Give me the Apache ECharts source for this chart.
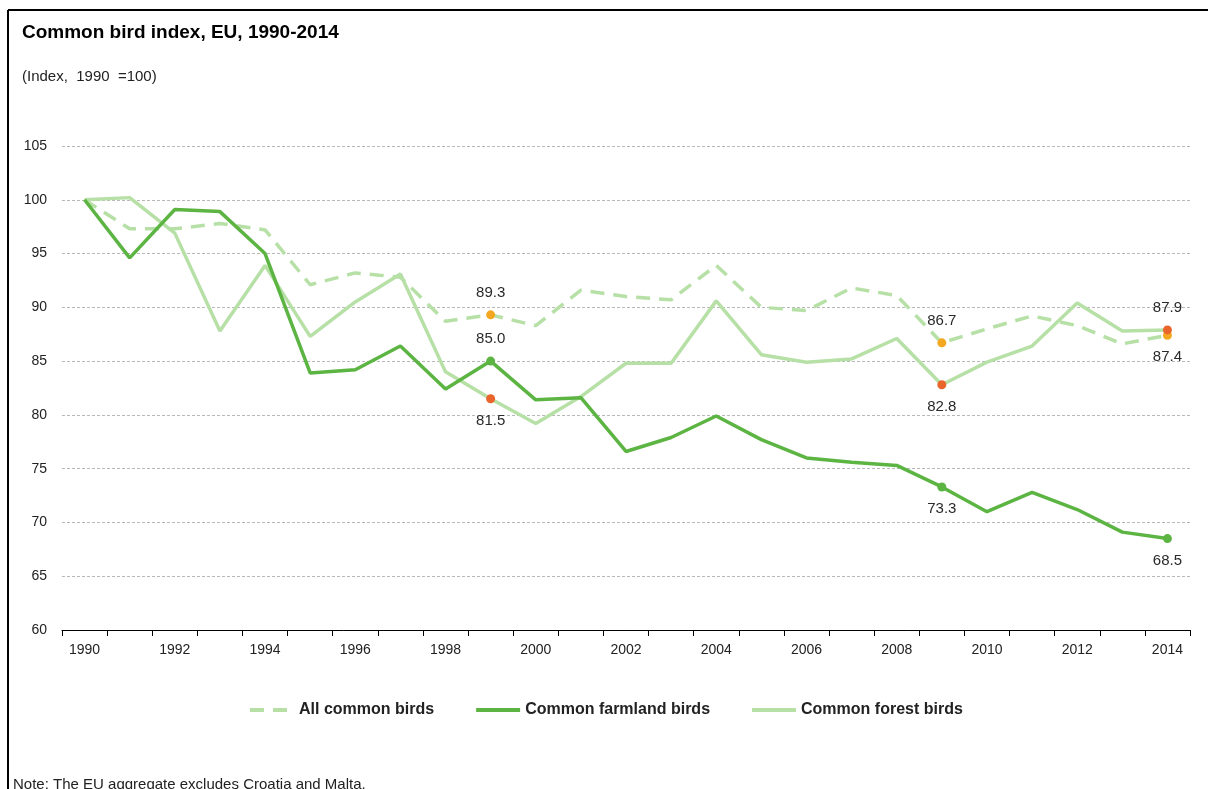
<!DOCTYPE html>
<html>
<head>
<meta charset="utf-8">
<script src="https://cdn.jsdelivr.net/npm/echarts@6/dist/echarts.min.js"></script>
<style>
html, body { margin: 0; padding: 0; background: #fff; }
#chart { width: 1208px; height: 789px; }
</style>
</head>
<body>
<div id="chart"></div>
<script>
const years = ['1990','1991','1992','1993','1994','1995','1996','1997','1998','1999','2000','2001','2002',
  '2003','2004','2005','2006','2007','2008','2009','2010','2011','2012','2013','2014']
const allBirds = [100, 97.3, 97.3, 97.8, 97.2, 92.1, 93.2, 92.8, 88.7, 89.3, 88.3, 91.6, 91.0,
  90.7, 93.9, 90.0, 89.7, 91.8, 91.1, 86.7, 88.0, 89.2, 88.3, 86.6, 87.4]
const farmland = [100, 94.6, 99.1, 98.9, 95.0, 83.9, 84.2, 86.4, 82.4, 85.0, 81.4, 81.6, 76.6,
  77.9, 79.9, 77.7, 76.0, 75.6, 75.3, 73.3, 71.0, 72.8, 71.2, 69.1, 68.5]
const forest = [100, 100.2, 96.9, 87.8, 93.9, 87.3, 90.5, 93.1, 84.0, 81.5, 79.2, 81.7, 84.8,
  84.8, 90.6, 85.6, 84.9, 85.2, 87.1, 82.8, 84.9, 86.4, 90.4, 87.8, 87.9]
const yTicks = [60, 105, 5]

// points with a dot and value label: [year index, label position]
const allMarks = [[9, 'top'], [19, 'top'], [24, 'bottom']]
const farmMarks = [[9, 'top'], [19, 'bottom'], [24, 'bottom']]
const forestMarks = [[9, 'bottom'], [19, 'bottom'], [24, 'top']]

const cFarm = '#5cb443'
const cLight = '#b6e0a6'
const cYellow = '#f4a720'
const cOrange = '#e9652c'
const font = '"Liberation Sans", Arial, sans-serif'

function buildData(values, marks, dotColor) {
    return values.map((v, i) => {
        const m = marks.find(k => k[0] === i)
        if (!m) return v
        return {
            value: v,
            symbol: 'circle',
            symbolSize: 9,
            itemStyle: { color: dotColor },
            label: {
                show: true,
                position: m[1],
                distance: 10,
                color: '#2a2a2a',
                fontSize: 15,
                fontFamily: font,
                formatter: p => p.value.toFixed(1)
            }
        }
    })
}

const myChart = echarts.init(document.getElementById('chart'))
const option = {
    animation: false,
    textStyle: { fontFamily: font },
    title: [
        { text: 'Common bird index, EU, 1990-2014', left: 22, top: 23, padding: 0,
          textStyle: { fontSize: 19, fontWeight: 'bold', color: '#000', fontFamily: font } },
        { text: '(Index,  1990  =100)', left: 22, top: 69, padding: 0,
          textStyle: { fontSize: 15, fontWeight: 'normal', color: '#222', fontFamily: font } },
        { text: 'Note: The EU aggregate excludes Croatia and Malta.', left: 13, top: 777, padding: 0,
          textStyle: { fontSize: 15, fontWeight: 'normal', color: '#222', fontFamily: font } }
    ],
    graphic: [
        { type: 'line', shape: { x1: 8, y1: 10, x2: 1208, y2: 10 }, style: { stroke: '#000', lineWidth: 2 } },
        { type: 'line', shape: { x1: 8, y1: 10, x2: 8, y2: 789 }, style: { stroke: '#000', lineWidth: 2 } }
    ],
    legend: {
        top: 702,
        left: 248,
        padding: 0,
        itemWidth: 44,
        itemHeight: 12,
        itemGap: 40,
        itemStyle: { opacity: 0 },
        lineStyle: { width: 4 },
        textStyle: { fontSize: 16, fontWeight: 'bold', color: '#222', fontFamily: font },
        data: ['All common birds', 'Common farmland birds', 'Common forest birds']
    },
    grid: { left: 62, right: 18, top: 146, bottom: 159 },
    xAxis: {
        type: 'category',
        data: years,
        boundaryGap: true,
        axisLine: { lineStyle: { color: '#000', width: 1 } },
        axisTick: { show: true, interval: 0, length: 6, lineStyle: { color: '#000' } },
        axisLabel: { interval: 1, margin: 13, fontSize: 14, color: '#222' }
    },
    yAxis: {
        type: 'value',
        min: yTicks[0],
        max: yTicks[1],
        interval: yTicks[2],
        axisLine: { show: false },
        axisTick: { show: false },
        axisLabel: { margin: 15, fontSize: 14, color: '#222' },
        splitLine: { lineStyle: { color: '#b8b8b8', type: [3, 2], width: 1 } }
    },
    series: [
        {
            name: 'All common birds',
            type: 'line',
            symbol: 'none',
            color: cLight,
            lineStyle: { width: 3.5, type: [14, 9], color: cLight },
            data: buildData(allBirds, allMarks, cYellow),
            z: 2
        },
        {
            name: 'Common farmland birds',
            type: 'line',
            symbol: 'none',
            color: cFarm,
            lineStyle: { width: 3.5, color: cFarm },
            data: buildData(farmland, farmMarks, cFarm),
            z: 3
        },
        {
            name: 'Common forest birds',
            type: 'line',
            symbol: 'none',
            color: cLight,
            lineStyle: { width: 3.5, color: cLight },
            data: buildData(forest, forestMarks, cOrange),
            z: 2
        }
    ]
}
myChart.setOption(option)
</script>
</body>
</html>
